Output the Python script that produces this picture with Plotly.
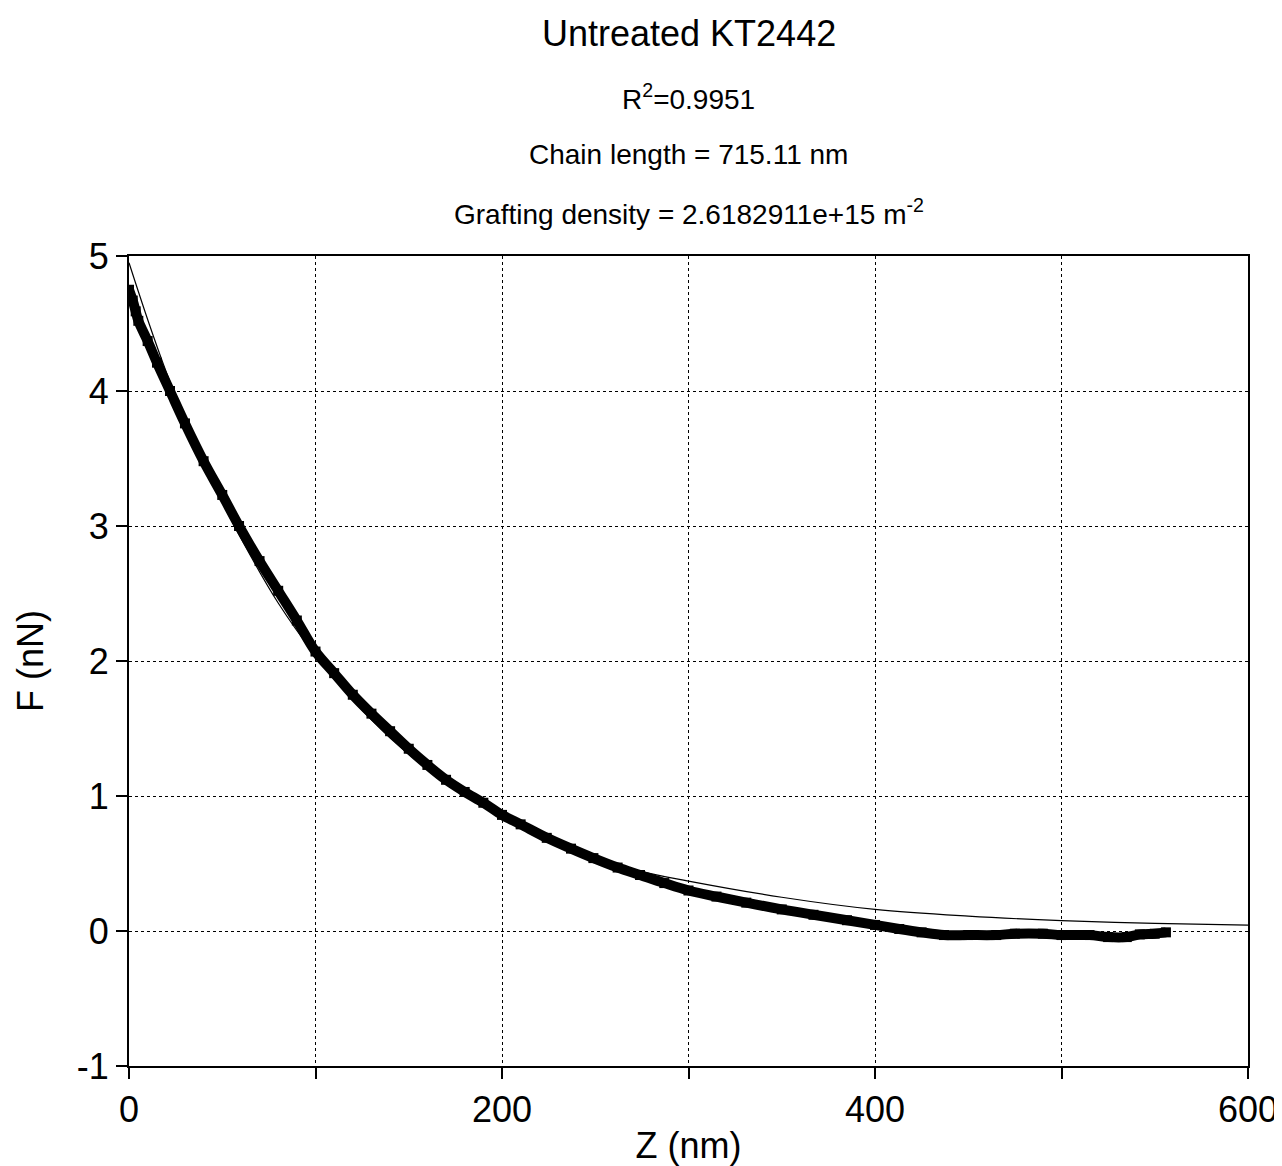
import plotly.graph_objects as go

# Measured data (Z in nm, F in nN)
data_z = [0, 2, 3.6, 5, 10, 15, 22, 30, 40, 50, 59, 70, 80, 90, 100, 110, 120, 130, 140,
          150, 160, 170, 180, 190, 200, 210, 224, 237, 249, 262, 274, 287, 300, 315, 331,
          350, 367, 385, 400, 413, 425, 437, 450, 465, 475, 490, 500, 515, 525, 535, 542,
          550, 556]
data_f = [4.75, 4.67, 4.59, 4.52, 4.37, 4.21, 4.00, 3.76, 3.48, 3.23, 3.00, 2.74, 2.52,
          2.30, 2.07, 1.91, 1.75, 1.61, 1.48, 1.35, 1.23, 1.12, 1.03, 0.95, 0.86, 0.79,
          0.69, 0.61, 0.54, 0.47, 0.415, 0.355, 0.30, 0.255, 0.21, 0.16, 0.12, 0.08, 0.045,
          0.015, -0.01, -0.03, -0.03, -0.03, -0.02, -0.02, -0.03, -0.03, -0.045, -0.045,
          -0.025, -0.02, -0.01]

# Fitted curve
fit_z = [0, 10, 20, 30, 40, 50, 60, 80, 100, 120, 140, 160, 180, 200, 225, 250, 275, 300,
         350, 400, 450, 500, 550, 600]
fit_f = [4.95, 4.53, 4.14, 3.79, 3.47, 3.18, 2.91, 2.43, 2.04, 1.71, 1.43, 1.20, 1.01,
         0.85, 0.68, 0.55, 0.44, 0.37, 0.25, 0.16, 0.11, 0.077, 0.056, 0.043]

x_tickvals = [0, 200, 400, 600]
x_minor_tickvals = [100, 300, 500]
y_tickvals = [-1, 0, 1, 2, 3, 4, 5]
y_ticktext = ["-1", "0", "1", "2", "3", "4", "5"]

title_text = "Untreated KT2442"
subtitles = ["R<sup>2</sup>=0.9951",
             "Chain length = 715.11 nm",
             "Grafting density = 2.6182911e+15 m<sup>-2</sup>"]

FONT = "Liberation Sans, Arial, sans-serif"

fig = go.Figure()
fig.add_trace(go.Scatter(x=data_z, y=data_f, mode="lines+markers",
                         line=dict(color="black", width=10, shape="spline"),
                         marker=dict(symbol="square", size=10, color="black"),
                         showlegend=False))
fig.add_trace(go.Scatter(x=fit_z, y=fit_f, mode="lines",
                         line=dict(color="black", width=1.2, shape="spline"),
                         showlegend=False))

axis_common = dict(showline=True, linecolor="black", linewidth=2, mirror=True,
                   ticks="outside", tickcolor="black", ticklen=11, tickwidth=1.5,
                   showgrid=True, gridcolor="black", gridwidth=1, griddash="dot",
                   zeroline=False, tickfont=dict(family=FONT, size=36, color="black"))

fig.update_xaxes(range=[0, 600], tickvals=x_tickvals,
                 minor=dict(tickvals=x_minor_tickvals, ticks="outside", ticklen=11,
                            tickcolor="black", tickwidth=1.5, showgrid=True,
                            gridcolor="black", gridwidth=1, griddash="dot"),
                 title=dict(text="Z (nm)", font=dict(family=FONT, size=36, color="black"),
                            standoff=6),
                 **axis_common)
fig.update_yaxes(range=[-1, 5], tickvals=y_tickvals, ticktext=y_ticktext,
                 title=dict(text="F (nN)", font=dict(family=FONT, size=36, color="black"),
                            standoff=22),
                 **axis_common)

annos = [dict(text=title_text, y=1.2753, size=36)]
ys = [1.1963, 1.1247, 1.0543]
for t, yy in zip(subtitles, ys):
    annos.append(dict(text=t, y=yy, size=28))
for a in annos:
    fig.add_annotation(text=a["text"], x=0.5, xref="paper", y=a["y"], yref="paper",
                       showarrow=False, xanchor="center", yanchor="middle",
                       font=dict(family=FONT, size=a["size"], color="black"))

fig.update_layout(width=1274, height=1158, plot_bgcolor="white", paper_bgcolor="white",
                  margin=dict(l=121, r=34, t=248, b=100, autoexpand=False),
                  font=dict(family=FONT, color="black"))

fig.write_html("out.html")
